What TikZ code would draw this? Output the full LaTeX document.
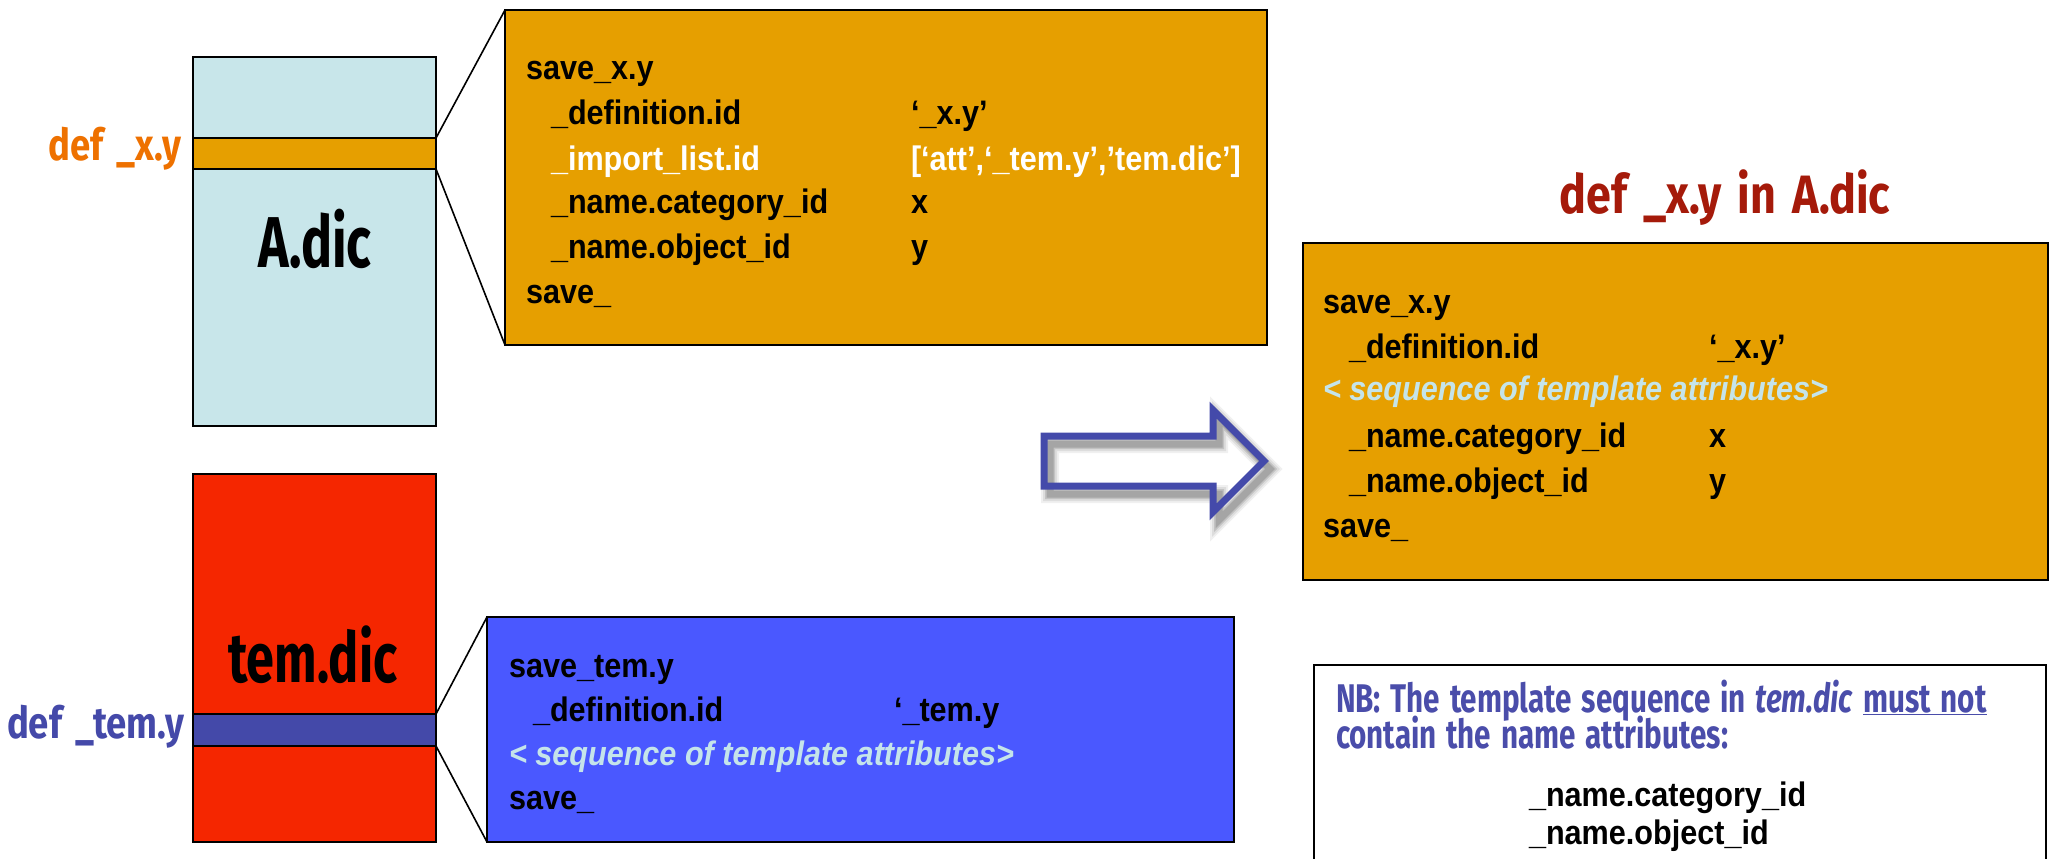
\documentclass[tikz,border=0pt]{standalone}
\usepackage{fontspec}
\setmainfont{Liberation Sans}
\newfontfamily\bodyf[FakeStretch=0.9]{Liberation Sans}
\newfontfamily\hand[FakeStretch=0.72]{Fira Sans}
\newfontfamily\handw[FakeStretch=0.83,WordSpace=1.5]{Fira Sans}
\newfontfamily\handnb[FakeStretch=0.74,WordSpace=1.4]{Fira Sans}
\definecolor{cyanbox}{HTML}{C8E6EA}
\definecolor{orng}{HTML}{E69F00}
\definecolor{redbox}{HTML}{F52600}
\definecolor{bandblue}{HTML}{4449A9}
\definecolor{bluebox}{HTML}{4A58FF}
\definecolor{paletxt}{HTML}{C5E4EA}
\definecolor{orlabel}{HTML}{EE7100}
\definecolor{titlered}{HTML}{A51A0A}
\definecolor{nbblue}{HTML}{4A4DAA}
\definecolor{arrowblue}{HTML}{444AAA}
\tikzset{
  box/.style={draw=black, line width=2pt, inner sep=0pt, outer sep=0pt},
  conn/.style={draw=black, line width=1.6pt},
  txt/.style={anchor=base west, inner sep=0pt, outer sep=0pt, font=\bodyf\bfseries\fontsize{34}{40}\selectfont},
  seqtxt/.style={txt, text=paletxt, font=\bodyf\bfseries\itshape\fontsize{34}{40}\selectfont},
  hw/.style={inner sep=0pt, outer sep=0pt, font=\hand\bfseries},
  lbl/.style={hw, anchor=base east, font=\handw\bfseries\fontsize{44}{50}\selectfont},
  nbtxt/.style={hw, anchor=base west, text=nbblue, font=\handnb\bfseries\fontsize{40}{44}\selectfont},
  arrowst/.style={draw=arrowblue, line width=7pt, line join=miter},
}
\begin{document}
\begin{tikzpicture}[x=1pt,y=-1pt]
\useasboundingbox (0,0) rectangle (2054,859);
\fill[white] (0,0) rectangle (2054,859);
\clip (0,0) rectangle (2054,859);

% left dictionaries
\node[box, fill=cyanbox, minimum width=243pt, minimum height=369pt, anchor=north west] (adic) at (193,57) {};
\node[box, fill=orng, minimum width=243pt, minimum height=31pt, anchor=north west] (xyband) at (193,138) {};
\node[box, fill=redbox, minimum width=243pt, minimum height=368pt, anchor=north west] (temdic) at (193,474) {};
\node[box, fill=bandblue, minimum width=243pt, minimum height=32pt, anchor=north west] (temband) at (193,714) {};

\node[hw, anchor=base, font=\hand\bfseries\fontsize{72}{80}\selectfont] (adiclbl) at (315,267) {A.dic};
\node[hw, anchor=base, font=\hand\bfseries\fontsize{70}{80}\selectfont] (temdiclbl) at (313,682) {tem.dic};
\node[lbl, text=orlabel] (xylbl) at (181,160) {def \_x.y};
\node[lbl, text=bandblue] (temlbl) at (184,738) {def \_tem.y};

% expanded boxes
\node[box, fill=orng, minimum width=762pt, minimum height=335pt, anchor=north west] (defbox) at (505,10) {};
\node[box, fill=bluebox, minimum width=747pt, minimum height=225pt, anchor=north west] (tembox) at (487,617) {};
\draw[conn] (xyband.north east) -- (defbox.north west);
\draw[conn] (xyband.south east) -- (defbox.south west);
\draw[conn] (temband.north east) -- (tembox.north west);
\draw[conn] (temband.south east) -- (tembox.south west);

% text of def box
\node[txt] (d1) at (526,80) {save\_x.y};
\node[txt] (d2) at (551,124) {\_definition.id};
\node[txt] (d2v) at (911,124) {‘\_x.y’};
\node[txt, text=white] (d3) at (551,170) {\_import\_list.id};
\node[txt, text=white] (d3v) at (911,170) {[‘att’,‘\_tem.y’,’tem.dic’]};
\node[txt] (d4) at (551,213) {\_name.category\_id};
\node[txt] (d4v) at (911,213) {x};
\node[txt] (d5) at (551,258) {\_name.object\_id};
\node[txt] (d5v) at (911,258) {y};
\node[txt] (d6) at (526,303) {save\_};

% text of template box
\node[txt] (t1) at (509,677) {save\_tem.y};
\node[txt] (t2) at (533,721) {\_definition.id};
\node[txt] (t2v) at (894,721) {‘\_tem.y};
\node[seqtxt] (t3) at (509,765) {< sequence of template attributes>};
\node[txt] (t4) at (509,809) {save\_};

% arrow with shadow
\begin{scope}[shift={(6,8)}]
  \foreach \w/\o in {18/0.06,14/0.08,10/0.12,7/0.15}{
    \draw[line width=\w pt, black, opacity=\o, line join=miter]
      (1044,436) -- (1213,436) -- (1213,410) -- (1264,461) -- (1213,512) -- (1213,486) -- (1044,486) -- cycle;
  }
\end{scope}
\draw[arrowst] (1044,436) -- (1213,436) -- (1213,410) -- (1264,461) -- (1213,512) -- (1213,486) -- (1044,486) -- cycle;

% result
\node[hw, anchor=base, text=titlered, font=\handw\bfseries\fontsize{54}{60}\selectfont] (title) at (1725,213) {def \_x.y in A.dic};
\node[box, fill=orng, minimum width=745pt, minimum height=337pt, anchor=north west] (resbox) at (1303,243) {};
\node[txt] (r1) at (1323,313) {save\_x.y};
\node[txt] (r2) at (1349,358) {\_definition.id};
\node[txt] (r2v) at (1709,358) {‘\_x.y’};
\node[seqtxt] (r3) at (1323,400) {< sequence of template attributes>};
\node[txt] (r4) at (1349,447) {\_name.category\_id};
\node[txt] (r4v) at (1709,447) {x};
\node[txt] (r5) at (1349,492) {\_name.object\_id};
\node[txt] (r5v) at (1709,492) {y};
\node[txt] (r6) at (1323,537) {save\_};

% NB box
\node[box, fill=white, minimum width=732pt, minimum height=260pt, anchor=north west] (nbbox) at (1314,665) {};
\node[nbtxt] (nb1) at (1336,712) {NB: The template sequence in \textit{tem.dic} \underline{must not}};
\node[nbtxt] (nb2) at (1336,748) {contain the name attributes:};
\node[txt] (nb3) at (1529,806) {\_name.category\_id};
\node[txt] (nb4) at (1529,844) {\_name.object\_id};
\end{tikzpicture}
\end{document}
